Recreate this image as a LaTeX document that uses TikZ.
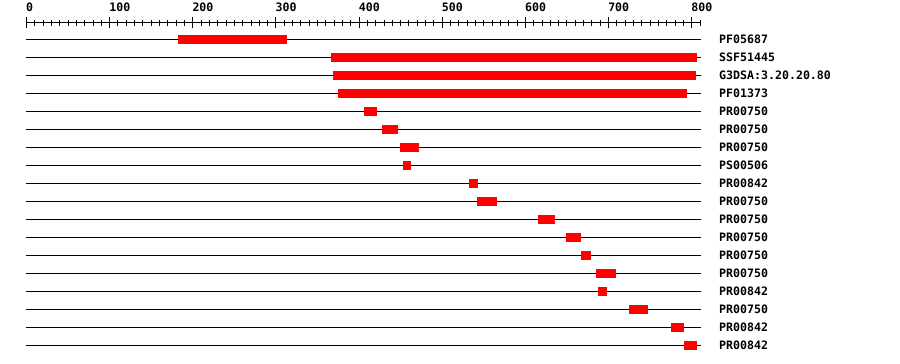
\documentclass[tikz,border=0pt]{standalone}
\usepackage{fontspec}
\setmonofont{DejaVu Sans Mono}
\tikzset{
  lbl/.style={font=\ttfamily\bfseries\fontsize{11.6}{12}\selectfont, inner sep=0pt, anchor=base west},
  trackline/.style={line width=1pt, black},
  hit/.style={fill=red},
  tick/.style={line width=1pt, black}
}
\begin{document}
\begin{tikzpicture}[x=1pt,y=-1pt]
\useasboundingbox (0,0) rectangle (900,364);
% axis
\draw[tick] (26,22.5) -- (701,22.5);
\foreach \v in {0,10,...,810} {
  \draw[tick] ({26.5+0.8315*\v},19.5) -- ({26.5+0.8315*\v},25.5);
}
\foreach \v in {0,100,...,800} {
  \draw[tick] ({26.5+0.8315*\v},17) -- ({26.5+0.8315*\v},28);
  \node[lbl] (ax\v) at ({26+0.8315*\v},12) {\v};
}
% tracks: index / start / end / label
\foreach \i/\a/\b/\t in {
  1/178/287/PF05687,
  2/331/697/SSF51445,
  3/333/696/G3DSA:3.20.20.80,
  4/338/687/PF01373,
  5/364/377/PR00750,
  6/382/398/PR00750,
  7/400/419/PR00750,
  8/403/411/PS00506,
  9/469/478/PR00842,
  10/477/497/PR00750,
  11/538/555/PR00750,
  12/566/581/PR00750,
  13/581/591/PR00750,
  14/596/616/PR00750,
  15/598/607/PR00842,
  16/629/648/PR00750,
  17/671/684/PR00842,
  18/684/697/PR00842} {
  \pgfmathsetmacro{\yy}{39.3+18*(\i-1)}
  \draw[trackline] (26,\yy) -- (701,\yy);
  \fill[hit] (\a,\yy-4.5) rectangle (\b,\yy+4.5);
  \node[lbl] (lab\i) at (719,\yy+4.3) {\t};
}
\end{tikzpicture}
\end{document}
